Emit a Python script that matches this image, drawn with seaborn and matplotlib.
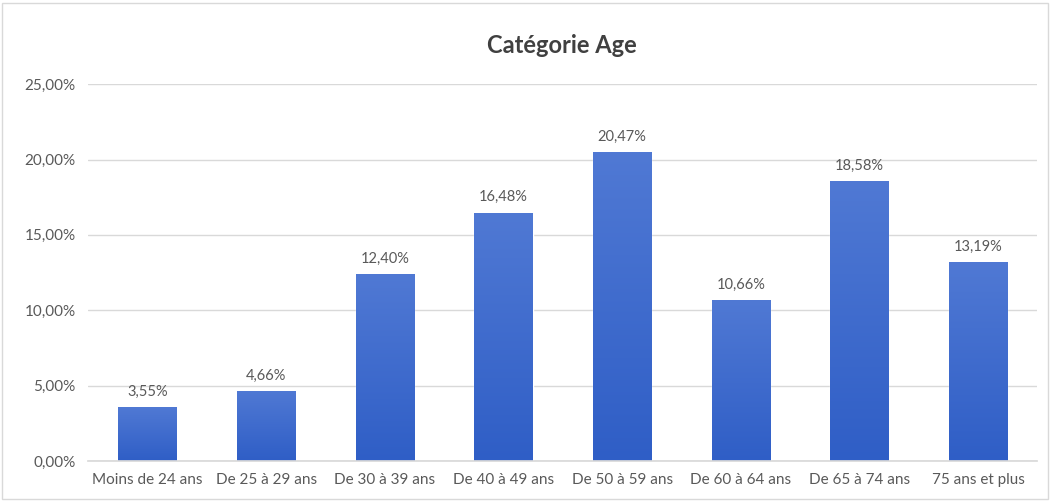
import matplotlib
matplotlib.use("Agg")
import matplotlib.pyplot as plt
import matplotlib.ticker as mticker
import numpy as np
import pandas as pd
import seaborn as sns

categories = ["Moins de 24 ans", "De 25 à 29 ans", "De 30 à 39 ans", "De 40 à 49 ans",
              "De 50 à 59 ans", "De 60 à 64 ans", "De 65 à 74 ans", "75 ans et plus"]
values = [3.55, 4.66, 12.40, 16.48, 20.47, 10.66, 18.58, 13.19]

df = pd.DataFrame({"cat": categories, "val": values})

sns.set_theme(style="white")
plt.rcParams['font.family'] = ['Lato', 'DejaVu Sans']

fig = plt.figure(figsize=(10.5, 5.01), dpi=100)
ax = fig.add_axes([0.084, 0.080, 0.904, 0.752])

sns.barplot(data=df, x="cat", y="val", color="#3a66cc", width=0.49, ax=ax, saturation=1)

# soft vertical gradient in the bars
grad = np.linspace(0, 1, 256).reshape(-1, 1)
cmap = matplotlib.colors.LinearSegmentedColormap.from_list("g", ["#2f5ec6", "#5079d4"])
for p in ax.patches:
    x0, y0 = p.get_x(), p.get_y()
    w, h = p.get_width(), p.get_height()
    im = ax.imshow(grad, cmap=cmap, extent=[x0, x0 + w, y0, y0 + h], origin="lower",
                   aspect="auto", zorder=p.get_zorder() + 0.1)
    im.set_clip_path(p)

for i, v in enumerate(values):
    ax.text(i, v + 0.55, f"{v:.2f}%".replace(".", ","), ha="center", va="bottom",
            fontsize=10.5, color="#595959")

ax.set_xlim(-0.5, 7.5)
ax.set_ylim(0, 25)
ax.yaxis.set_major_locator(mticker.MultipleLocator(5))
ax.yaxis.set_major_formatter(mticker.FuncFormatter(lambda v, _: f"{v:.2f}%".replace(".", ",")))
ax.grid(axis="y", color="#d9d9d9", linewidth=1)
ax.set_axisbelow(True)
for s in ["top", "right", "left"]:
    ax.spines[s].set_visible(False)
ax.spines["bottom"].set_color("#d9d9d9")
ax.tick_params(axis="both", length=0, labelsize=11, colors="#595959", pad=9)
ax.set_xlabel("")
ax.set_ylabel("")

fig.text(0.535, 0.91, "Catégorie Age", ha="center", va="center", fontsize=17,
         fontweight="bold", color="#404040")

fig.patches.append(matplotlib.patches.Rectangle((0.002, 0.004), 0.996, 0.99, transform=fig.transFigure,
                                                fill=False, edgecolor="#d9d9d9", linewidth=1))

fig.savefig("out.png", dpi=100)
